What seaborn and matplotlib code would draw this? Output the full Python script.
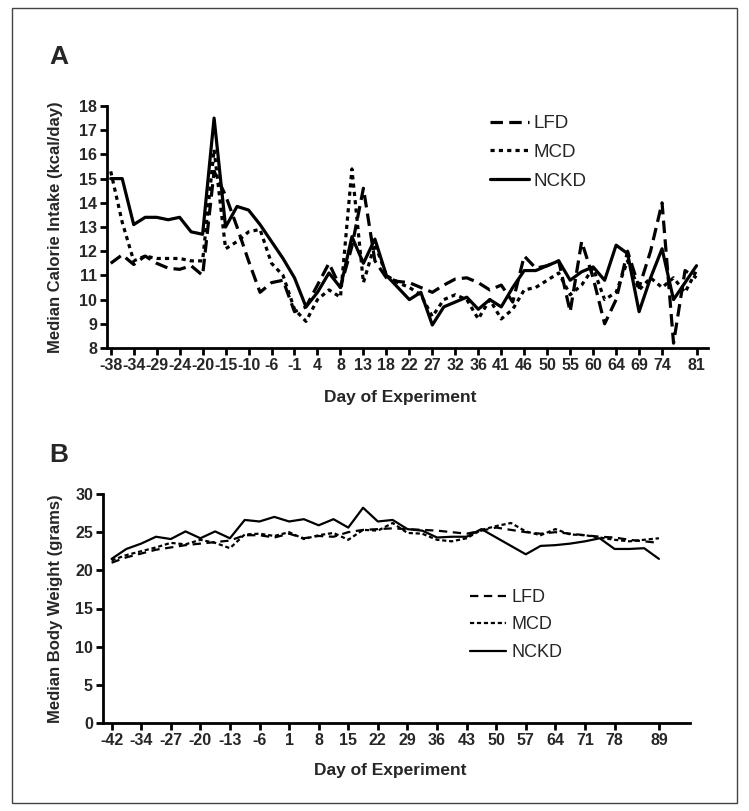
import seaborn as sns
import matplotlib.pyplot as plt
from matplotlib.patches import Rectangle
import numpy as np

# Panel A: calorie intake, measured Mon/Wed/Fri
a_days = [-38, -36, -34, -31, -29, -27, -24, -22, -20, -17, -15, -13, -10, -8, -6, -3, -1, 1, 4, 6,
          8, 11, 13, 15, 18, 20, 22, 25, 27, 29, 32, 34, 36, 39, 41, 43, 46, 48, 50, 53,
          55, 57, 60, 62, 64, 67, 69, 71, 74, 76, 78, 81]
a_tick_days = [-38, -34, -29, -24, -20, -15, -10, -6, -1, 4, 8, 13, 18, 22, 27, 32, 36, 41, 46, 50,
               55, 60, 64, 69, 74, 81]
a_lfd = [11.5, 11.85, 11.45, 11.8, 11.5, 11.3, 11.25, 11.4, 11.0, 15.3, 14.3, 13.0, 11.6, 10.3, 10.7,
         10.8, 9.5, 9.7, 10.6, 11.5, 10.5, 12.2, 14.6, 11.6, 10.9, 10.75, 10.7, 10.5, 10.3, 10.6,
         10.85, 10.9, 10.7, 10.4, 10.6, 9.9, 11.8, 11.3, 11.4, 11.6, 9.5, 12.4, 10.9, 9.0, 10.0,
         12.0, 10.5, 12.0, 14.0, 8.2, 11.2, 10.9]
a_mcd = [15.3, 13.2, 11.6, 11.8, 11.7, 11.7, 11.7, 11.6, 11.6, 16.2, 12.1, 12.4, 12.8, 12.9, 11.5,
         11.0, 9.6, 9.1, 10.0, 10.4, 10.1, 15.4, 10.7, 12.3, 11.0, 10.7, 10.5, 10.2, 9.3, 10.0,
         10.2, 10.0, 9.2, 10.0, 9.2, 9.6, 10.4, 10.5, 10.8, 11.1, 10.2, 10.6, 11.3, 10.0, 10.3,
         11.6, 10.4, 10.9, 10.5, 10.9, 10.3, 11.2]
a_nckd = [15.0, 15.0, 13.1, 13.4, 13.4, 13.3, 13.4, 12.8, 12.7, 17.5, 13.0, 13.85, 13.7, 13.1, 12.4,
          11.7, 10.9, 9.7, 10.3, 11.1, 10.5, 12.6, 11.5, 12.5, 11.0, 10.5, 10.0, 10.3, 8.95, 9.7,
          9.9, 10.1, 9.6, 10.0, 9.7, 10.5, 11.2, 11.2, 11.4, 11.6, 10.8, 11.15, 11.35, 10.8, 12.25,
          11.9, 9.5, 10.9, 12.1, 10.0, 10.7, 11.4]

# Panel B: body weight, twice weekly
b_days = [-42, -38, -34, -31, -27, -24, -20, -17, -13, -10, -6, -3, 1, 4, 8, 11, 15, 18, 22, 25,
          29, 32, 36, 39, 43, 46, 50, 53, 57, 60, 64, 67, 71, 74, 78, 82, 85, 89]
b_tick_days = [-42, -34, -27, -20, -13, -6, 1, 8, 15, 22, 29, 36, 43, 50, 57, 64, 71, 78, 89]
b_lfd = [21.0, 21.7, 22.2, 22.7, 23.0, 23.3, 23.5, 23.7, 23.9, 24.6, 24.6, 24.3, 24.8, 24.2, 24.5,
         24.4, 25.0, 25.3, 25.4, 25.5, 25.4, 25.3, 25.2, 25.0, 24.8, 25.2, 25.6, 25.3, 25.0, 24.8,
         25.0, 24.8, 24.6, 24.4, 24.3, 24.0, 23.8, 23.6]
b_mcd = [21.3, 22.0, 22.5, 23.0, 23.6, 23.4, 24.0, 23.6, 22.9, 24.7, 24.8, 24.5, 25.0, 24.1, 24.6,
         24.9, 24.0, 25.3, 25.2, 26.2, 24.9, 24.8, 24.0, 23.8, 24.2, 25.3, 25.8, 26.2, 25.1, 24.6,
         25.4, 24.7, 24.6, 24.3, 24.0, 23.8, 24.0, 24.2]
b_nckd = [21.5, 22.8, 23.5, 24.4, 24.1, 25.1, 24.2, 25.1, 24.2, 26.6, 26.4, 27.0, 26.4, 26.7, 25.9,
          26.7, 25.6, 28.2, 26.4, 26.6, 25.4, 25.2, 24.3, 24.4, 24.4, 25.4, 24.3, 23.2, 22.1, 23.2,
          23.3, 23.5, 23.8, 24.2, 22.8, 22.8, 22.9, 21.5]

sns.set_style('ticks')
plt.rcParams['font.family'] = ['Liberation Sans', 'DejaVu Sans']
plt.rcParams['lines.scale_dashes'] = False

W, H = 749, 811
fig = plt.figure(figsize=(W / 100, H / 100), dpi=100)

def px_axes(left, top, right, bottom):
    return fig.add_axes([left / W, 1 - bottom / H, (right - left) / W, (bottom - top) / H])

ax1 = px_axes(106.7, 106, 708, 348)
ax2 = px_axes(102.7, 494, 690, 723)

# --- Panel A
xa = np.arange(len(a_days))
sns.lineplot(x=xa, y=a_lfd, color='black', lw=2.3, linestyle=(0, (9, 4.5)), label='LFD', ax=ax1)
sns.lineplot(x=xa, y=a_mcd, color='black', lw=2.3, linestyle=(0, (3, 3)), label='MCD', ax=ax1)
sns.lineplot(x=xa, y=a_nckd, color='black', lw=2.3, linestyle='-', label='NCKD', ax=ax1)
ax1.set_xlim(-0.35, 52)
ax1.set_ylim(8, 18)
ax1.set_yticks(range(8, 19))
ax1.set_xticks([a_days.index(d) for d in a_tick_days])
ax1.set_xticklabels([str(d) for d in a_tick_days])
ax1.set_xlabel('Day of Experiment', fontsize=12.5, fontweight='bold')
ax1.set_ylabel('Median Calorie Intake (kcal/day)', fontsize=12, fontweight='bold')
ax1.xaxis.set_label_coords(0.488, -0.175)
ax1.yaxis.set_label_coords(-0.072, 0.5)
ax1.legend(frameon=False, loc='upper left', bbox_to_anchor=(490 / W, 1 - 115 / H),
           bbox_transform=fig.transFigure, borderpad=0, borderaxespad=0,
           fontsize=13.5, handlelength=2.1, handletextpad=0.2, labelspacing=0.62)

# --- Panel B
xb = np.arange(len(b_days))
sns.lineplot(x=xb, y=b_lfd, color='black', lw=1.6, linestyle=(0, (6, 4)), label='LFD', ax=ax2)
sns.lineplot(x=xb, y=b_mcd, color='black', lw=1.6, linestyle=(0, (3, 2)), label='MCD', ax=ax2)
sns.lineplot(x=xb, y=b_nckd, color='black', lw=1.6, linestyle='-', label='NCKD', ax=ax2)
ax2.set_xlim(-0.6, 39.1)
ax2.set_ylim(0, 30)
ax2.set_yticks(range(0, 31, 5))
ax2.set_xticks([b_days.index(d) for d in b_tick_days])
ax2.set_xticklabels([str(d) for d in b_tick_days])
ax2.set_xlabel('Day of Experiment', fontsize=12.5, fontweight='bold')
ax2.set_ylabel('Median Body Weight (grams)', fontsize=12, fontweight='bold')
ax2.xaxis.set_label_coords(0.49, -0.175)
ax2.yaxis.set_label_coords(-0.068, 0.5)
ax2.legend(frameon=False, loc='upper left', bbox_to_anchor=(470 / W, 1 - 589 / H),
           bbox_transform=fig.transFigure, borderpad=0, borderaxespad=0,
           fontsize=13, handlelength=2.0, handletextpad=0.3, labelspacing=0.58)

for ax in (ax1, ax2):
    sns.despine(ax=ax)
    for side in ('left', 'bottom'):
        ax.spines[side].set_linewidth(2)
        ax.spines[side].set_color('black')
    ax.tick_params(axis='both', direction='out', length=5, width=2, color='black', pad=2)
    for lab in ax.get_xticklabels() + ax.get_yticklabels():
        lab.set_fontweight('bold')
        lab.set_fontsize(11.5)

fig.text(59 / W, 1 - 57 / H, 'A', fontsize=19, fontweight='bold', ha='center', va='center')
fig.text(59 / W, 1 - 455 / H, 'B', fontsize=19, fontweight='bold', ha='center', va='center')

fig.patches.append(Rectangle((12 / W, 1 - 803 / H), (737 - 12) / W, (803 - 8) / H,
                             transform=fig.transFigure, fill=False, edgecolor='#444444', lw=1))

fig.savefig('out.png', dpi=100)
